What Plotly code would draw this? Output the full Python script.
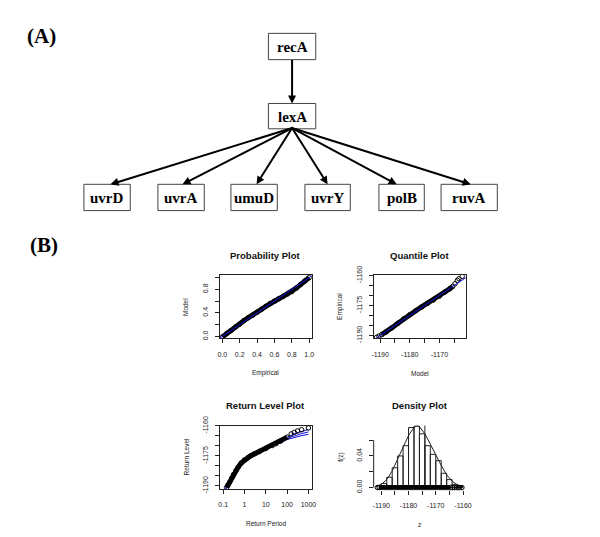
import plotly.graph_objects as go

W, H = 600, 537

# ================= DATA =================
# Panel (A): regulatory network
top_genes = ["recA", "lexA"]
bottom_genes = ["uvrD", "uvrA", "umuD", "uvrY", "polB", "ruvA"]
edges = [("recA", "lexA")] + [("lexA", g) for g in bottom_genes]

# Panel (B1): Probability plot (empirical vs model)
prob_empirical = [0.00, 0.05, 0.10, 0.15, 0.20, 0.25, 0.30, 0.35, 0.40, 0.45, 0.50,
                  0.55, 0.60, 0.65, 0.70, 0.75, 0.80, 0.85, 0.90, 0.95, 1.00]
prob_model = [-0.01, 0.05, 0.10, 0.16, 0.21, 0.27, 0.32, 0.36, 0.41, 0.46, 0.51,
              0.56, 0.60, 0.64, 0.68, 0.72, 0.76, 0.82, 0.88, 0.94, 1.00]
prob_ref = [-0.1, 1.1]

# Panel (B2): Quantile plot (model vs empirical)
quant_model = [-1191.2, -1190.4, -1189.5, -1188.0, -1186.0, -1184.0, -1182.0, -1180.0,
               -1178.0, -1176.0, -1174.0, -1172.0, -1170.0, -1168.0, -1166.5, -1165.5,
               -1164.7, -1163.9, -1163.4, -1162.3]
quant_empirical = [-1190.9, -1190.3, -1189.6, -1188.3, -1186.1, -1183.9, -1181.6, -1179.6,
                   -1177.6, -1175.7, -1173.9, -1172.2, -1170.3, -1168.1, -1166.6, -1165.4,
                   -1164.1, -1162.4, -1161.6, -1160.4]
quant_ref = [-1200, -1150]

# Panel (B3): Return level plot
rl_period = [0.145, 0.17, 0.2, 0.25, 0.3, 0.4, 0.5, 0.7, 1, 1.5, 2, 3, 5, 10, 20, 30,
             50, 100, 155, 218, 310, 480, 1000]
rl_level = [-1190.9, -1189.5, -1188.2, -1186.2, -1184.4, -1182.3, -1180.7, -1178.6,
            -1177.0, -1175.8, -1174.9, -1173.9, -1172.8, -1171.3, -1169.8, -1168.9,
            -1167.6, -1165.6, -1164.0, -1163.2, -1162.5, -1161.9, -1161.0]
rl_fit_period = [0.1, 0.15, 0.2, 0.3, 0.5, 0.7, 1, 2, 5, 10, 20, 50, 100, 200, 500, 1000]
rl_fit = [-1193.5, -1190.6, -1188.3, -1184.6, -1180.8, -1178.8, -1177.0, -1174.7,
          -1172.6, -1171.2, -1169.9, -1167.9, -1166.2, -1165.0, -1163.8, -1163.0]
rl_fit_upper = [-1193.0, -1190.2, -1187.9, -1184.3, -1180.5, -1178.5, -1176.7, -1174.4,
                -1172.3, -1170.8, -1169.4, -1167.4, -1165.6, -1164.1, -1162.7, -1161.8]
rl_fit_lower = [-1194.0, -1191.0, -1188.7, -1184.9, -1181.1, -1179.1, -1177.3, -1175.0,
                -1172.9, -1171.6, -1170.4, -1168.4, -1166.8, -1165.9, -1164.8, -1164.2]

# Panel (B4): Density plot
hist_left = [-1190, -1188, -1186, -1184, -1182, -1180, -1178, -1176, -1174, -1172,
             -1170, -1168, -1166, -1164, -1162]
hist_width = 2
hist_density = [0.005, 0.013, 0.025, 0.040, 0.053, 0.076, 0.078, 0.068, 0.053, 0.042,
                0.034, 0.018, 0.010, 0.004, 0.001]
dens_z = [-1192, -1190, -1188, -1186, -1184, -1182, -1180, -1178, -1177, -1176, -1174,
          -1172, -1170, -1168, -1166, -1164, -1162, -1160]
dens_f = [0.001, 0.004, 0.010, 0.021, 0.036, 0.052, 0.066, 0.076, 0.078, 0.077, 0.068,
          0.055, 0.041, 0.028, 0.016, 0.008, 0.003, 0.001]
rug_band = [-1191.0, -1164.8]
rug_points = [-1191.4, -1190.8, -1164.5, -1163.8, -1163.2, -1162.5, -1161.8, -1161.2, -1160.4]
dens_vline_z = -1174.0
dens_vline_top = 0.080

# ================= LAYOUT (pixel geometry) =================
def px(x):
    return x / W

def py(y):
    return 1 - y / H

node_box = {  # x0, x1, y0, y1 in pixels
    "recA": (270, 318, 25, 52),
    "lexA": (270, 318, 97, 123),
    "uvrD": (83, 130, 180, 207),
    "uvrA": (158, 205, 180, 207),
    "umuD": (232, 279, 180, 207),
    "uvrY": (307, 353, 180, 207),
    "polB": (382, 428, 180, 207),
    "ruvA": (445, 502, 180, 207),
}
arrow_head_x = {"lexA": 294, "uvrD": 110, "uvrA": 183, "umuD": 258,
                "uvrY": 330, "polB": 400, "ruvA": 475}

SERIF = "Liberation Serif"
SANS = "Liberation Sans"
BLUE = "#1414e6"

shapes = []
annotations = []

def label(x, y, text, font, angle=0):
    return dict(x=px(x), y=py(y), xref="paper", yref="paper", text=text,
                showarrow=False, xanchor="center", yanchor="middle",
                textangle=angle, font=font)

annotations.append(label(40, 28, "<b>(A)</b>", dict(family=SERIF, size=21, color="black")))
annotations.append(label(43, 242, "<b>(B)</b>", dict(family=SERIF, size=21, color="black")))

for name in top_genes + bottom_genes:
    x0, x1, y0, y1 = node_box[name]
    shapes.append(dict(type="rect", xref="paper", yref="paper", x0=px(x0), x1=px(x1),
                       y0=py(y1), y1=py(y0), line=dict(color="#444", width=1),
                       fillcolor="white", layer="below"))
    annotations.append(label((x0 + x1) / 2, (y0 + y1) / 2 + 0.5, "<b>%s</b>" % name,
                             dict(family=SERIF, size=15, color="black")))

for src, dst in edges:
    sx0, sx1, sy0, sy1 = node_box[src]
    dx0, dx1, dy0, dy1 = node_box[dst]
    tail_x, tail_y = (sx0 + sx1) / 2, sy1
    head_x, head_y = arrow_head_x[dst], dy0
    annotations.append(dict(x=px(head_x), y=py(head_y), xref="paper", yref="paper",
                            ax=tail_x - head_x, ay=tail_y - head_y, axref="pixel", ayref="pixel",
                            text="", showarrow=True, arrowhead=2, arrowsize=0.8,
                            arrowwidth=2, arrowcolor="black", standoff=0, startstandoff=0))

# subplot boxes (pixels)
boxes = {
    "prob": (220.7, 314.0, 273.3, 338.3),
    "quant": (376.7, 470.0, 273.3, 338.3),
    "rl": (220.7, 314.0, 427.7, 492.7),
    "dens": (376.7, 470.0, 427.7, 493.5),
}
titles = {"prob": "Probability Plot", "quant": "Quantile Plot",
          "rl": "Return Level Plot", "dens": "Density Plot"}
xtitles = {"prob": "Empirical", "quant": "Model", "rl": "Return Period", "dens": "z"}
ytitles = {"prob": "Model", "quant": "Empirical", "rl": "Return Level", "dens": "f(z)"}

for key, (bx0, bx1, by0, by1) in boxes.items():
    cx = (bx0 + bx1) / 2
    cy = (by0 + by1) / 2
    annotations.append(label(cx, by0 - 20.6, "<b>%s</b>" % titles[key],
                             dict(family=SANS, size=9.5, color="#111")))
    annotations.append(label(cx, by1 + 35.7, xtitles[key],
                             dict(family=SANS, size=6.5, color="#222")))
    annotations.append(label(bx0 - 34, cy, ytitles[key],
                             dict(family=SANS, size=6.5, color="#222"), angle=-90))

tickfont = dict(family=SANS, size=7, color="#222")

def xdom(key):
    b = boxes[key]
    return [px(b[0]), px(b[1])]

def ydom(key):
    b = boxes[key]
    return [py(b[3]), py(b[2])]

def axis(dom, rng, tv, tt, anchor, box=True, angle=None, standoff=4, **kw):
    d = dict(domain=dom, range=rng, tickvals=tv, ticktext=tt, anchor=anchor,
             showline=box, mirror=box, linecolor="#222", linewidth=1,
             ticks="outside", ticklen=4, tickwidth=1, tickcolor="#222",
             showgrid=False, zeroline=False, tickfont=tickfont,
             ticklabelstandoff=standoff)
    if angle is not None:
        d["tickangle"] = angle
    d.update(kw)
    return d

BAND = 5
MK = dict(symbol="circle-open", size=4.5, color="black", line=dict(width=1))

fig = go.Figure()

# ---- Probability plot
fig.add_trace(go.Scatter(x=prob_empirical, y=prob_model, mode="lines",
                         line=dict(color="black", width=BAND), xaxis="x", yaxis="y"))
fig.add_trace(go.Scatter(x=prob_empirical, y=prob_model, mode="markers",
                         marker=MK, xaxis="x", yaxis="y"))
fig.add_trace(go.Scatter(x=prob_ref, y=prob_ref, mode="lines",
                         line=dict(color=BLUE, width=1), xaxis="x", yaxis="y"))

# ---- Quantile plot
fig.add_trace(go.Scatter(x=quant_model[2:-4], y=quant_empirical[2:-4], mode="lines",
                         line=dict(color="black", width=BAND), xaxis="x2", yaxis="y2"))
fig.add_trace(go.Scatter(x=quant_model, y=quant_empirical, mode="markers",
                         marker=MK, xaxis="x2", yaxis="y2"))
fig.add_trace(go.Scatter(x=quant_ref, y=quant_ref, mode="lines",
                         line=dict(color=BLUE, width=1), xaxis="x2", yaxis="y2"))

# ---- Return level plot
for yy in (rl_fit, rl_fit_upper, rl_fit_lower):
    fig.add_trace(go.Scatter(x=rl_fit_period, y=yy, mode="lines",
                             line=dict(color=BLUE, width=1), xaxis="x3", yaxis="y3"))
fig.add_trace(go.Scatter(x=rl_period[:-5], y=rl_level[:-5], mode="lines",
                         line=dict(color="black", width=BAND), xaxis="x3", yaxis="y3"))
fig.add_trace(go.Scatter(x=rl_period, y=rl_level, mode="markers",
                         marker=MK, xaxis="x3", yaxis="y3"))

# ---- Density plot
hist_centers = [l + hist_width / 2 for l in hist_left]
fig.add_trace(go.Bar(x=hist_centers, y=hist_density, width=hist_width,
                     marker=dict(color="rgba(0,0,0,0)", line=dict(color="#222", width=1)),
                     xaxis="x4", yaxis="y4"))
fig.add_trace(go.Scatter(x=[dens_vline_z, dens_vline_z], y=[0, dens_vline_top], mode="lines",
                         line=dict(color="#222", width=1), xaxis="x4", yaxis="y4"))
fig.add_trace(go.Scatter(x=dens_z, y=dens_f, mode="lines",
                         line=dict(color="#222", width=1), xaxis="x4", yaxis="y4"))
fig.add_trace(go.Scatter(x=rug_band, y=[0, 0], mode="lines",
                         line=dict(color="black", width=5), xaxis="x4", yaxis="y4"))
fig.add_trace(go.Scatter(x=rug_points, y=[0] * len(rug_points), mode="markers",
                         marker=MK, xaxis="x4", yaxis="y4", cliponaxis=False))

# density axes lines (R style: only between first and last tick)
shapes.append(dict(type="line", xref="x4", yref="paper", x0=-1190, x1=-1160,
                   y0=py(boxes["dens"][3]), y1=py(boxes["dens"][3]),
                   line=dict(color="#222", width=1)))
shapes.append(dict(type="line", xref="paper", yref="y4", x0=px(boxes["dens"][0]),
                   x1=px(boxes["dens"][0]), y0=0, y1=0.06,
                   line=dict(color="#222", width=1)))

q_ticks = [-1190, -1185, -1180, -1175, -1170, -1165]
q_text = ["-1190", "", "-1180", "", "-1170", ""]
l_ticks = [-1190, -1185, -1180, -1175, -1170, -1165, -1160]
l_text = ["-1190", "", "", "-1175", "", "", "-1160"]

fig.update_layout(
    width=W, height=H, margin=dict(l=0, r=0, t=0, b=0),
    paper_bgcolor="white", plot_bgcolor="rgba(0,0,0,0)", showlegend=False,
    shapes=shapes, annotations=annotations,
    xaxis=axis(xdom("prob"), [-0.03, 1.03], [0, 0.2, 0.4, 0.6, 0.8, 1.0],
               ["0.0", "0.2", "0.4", "0.6", "0.8", "1.0"], "y", standoff=5),
    yaxis=axis(ydom("prob"), [-0.035, 1.04], [0, 0.2, 0.4, 0.6, 0.8, 1.0],
               ["0.0", "", "0.4", "", "0.8", ""], "x", angle=-90, standoff=4),
    xaxis2=axis(xdom("quant"), [-1192.2, -1161.1], q_ticks, q_text, "y2", standoff=5),
    yaxis2=axis(ydom("quant"), [-1191.5, -1159.8], l_ticks, l_text, "x2", angle=-90, standoff=4),
    xaxis3=axis(xdom("rl"), [-1.16, 3.16], [0.1, 1, 10, 100, 1000],
                ["0.1", "1", "10", "100", "1000"], "y3", standoff=5, type="log"),
    yaxis3=axis(ydom("rl"), [-1191.5, -1159.8], l_ticks, l_text, "x3", angle=-90, standoff=4),
    xaxis4=axis(xdom("dens"), [-1192.8, -1159], l_ticks,
                ["-1190", "", "-1180", "", "-1170", "", "-1160"], "y4", box=False, standoff=5),
    yaxis4=axis(ydom("dens"), [-0.0027, 0.0785], [0, 0.02, 0.04, 0.06],
                ["0.00", "", "0.04", ""], "x4", box=False, angle=-90, standoff=4),
)

fig.write_html("out.html", config={"displayModeBar": False},
               post_script="document.body.style.margin='0';")
